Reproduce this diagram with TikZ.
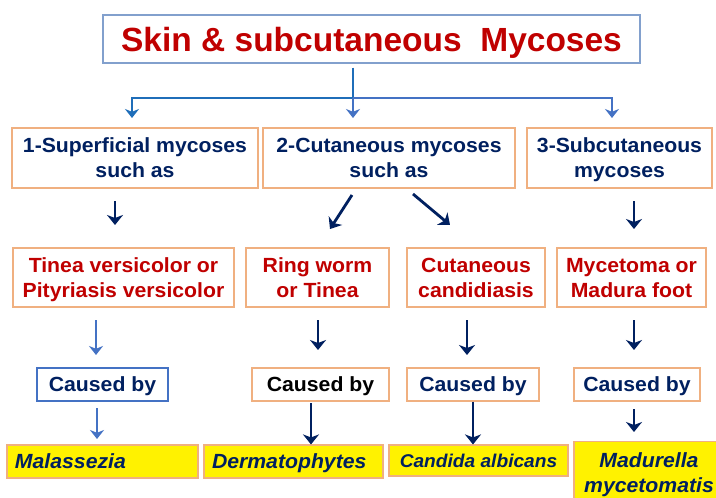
\documentclass[tikz,border=0pt]{standalone}
\usepackage{fontspec}
\setmainfont{Liberation Sans}[FakeStretch=1.035]
\newfontfamily\titlefont{Liberation Sans}
\usetikzlibrary{arrows.meta}
\definecolor{navy}{RGB}{0,32,96}
\definecolor{tred}{RGB}{192,0,0}
\definecolor{obord}{RGB}{240,176,128}
\definecolor{tbord}{RGB}{130,160,205}
\definecolor{lblue}{RGB}{68,114,196}
\definecolor{dblue}{RGB}{31,110,185}
\begin{document}
\begin{tikzpicture}[x=1pt,y=-1pt,
  every node/.style={inner sep=0pt, align=center, text depth=0pt},
  box/.style={draw=obord, line width=1.1pt, font=\fontsize{20.5}{25}\selectfont\bfseries},
  hdr/.style={box, text=navy, minimum height=60pt},
  dis/.style={box, text=tred, minimum height=59pt},
  cby/.style={box, text=navy, minimum height=33pt},
  org/.style={draw=obord, line width=1.1pt, fill=yellow, text=navy, font=\fontsize{20.5}{25}\selectfont\bfseries\itshape},
  narr/.style={draw=navy, line width=2.8pt, -{Stealth[length=10pt,width=16pt,inset=3pt]}},
  barr/.style={draw=lblue, line width=2.4pt, -{Stealth[length=9pt,width=14pt,inset=2.8pt]}},
  darr/.style={draw=dblue, line width=2.4pt, -{Stealth[length=9pt,width=14pt,inset=2.8pt]}},
]
\useasboundingbox (0,0) rectangle (716,498);
\fill[white] (0,0) rectangle (716,498);

% title
\node[draw=tbord, line width=1.1pt, minimum width=537pt, minimum height=48pt, text=tred,
      font=\titlefont\fontsize{33.5}{38}\selectfont\bfseries] (title) at (371.5,39) {Skin \& subcutaneous\ \ Mycoses};

% row 1
\node[hdr, minimum width=246pt] (s1) at (135,158) {1-Superficial mycoses\\such as};
\node[hdr, minimum width=252pt] (s2) at (389,158) {2-Cutaneous mycoses\\such as};
\node[hdr, minimum width=185pt] (s3) at (619.5,158) {3-Subcutaneous\\mycoses};

% row 2
\node[dis, minimum width=221pt] (d1) at (123.5,277.5) {Tinea versicolor or\\Pityriasis versicolor};
\node[dis, minimum width=143pt] (d2) at (317.5,277.5) {Ring worm\\or Tinea};
\node[dis, minimum width=138pt] (d3) at (476,277.5) {Cutaneous\\candidiasis};
\node[dis, minimum width=149pt] (d4) at (631.5,277.5) {Mycetoma or\\Madura foot};

% row 3
\node[cby, draw=lblue, minimum width=131pt] (c1) at (102.5,384.5) {Caused by};
\node[cby, text=black, minimum width=137pt] (c2) at (320.5,384.5) {Caused by};
\node[cby, minimum width=132pt] (c3) at (473,384.5) {Caused by};
\node[cby, minimum width=126pt] (c4) at (637,384.5) {Caused by};

% row 4
\node[org, text width=175pt, align=left, inner xsep=8pt, minimum height=33pt] (o1) at (102.5,461.5) {Malassezia};
\node[org, text width=163pt, align=left, inner xsep=8pt, minimum height=33pt] (o2) at (293.5,461.5) {Dermatophytes};
\node[org, minimum width=179pt, minimum height=31pt, font=\fontsize{18.5}{22}\selectfont\bfseries\itshape] (o3) at (478.5,460.5) {Candida albicans};
\node[org, minimum width=150pt, minimum height=63pt] (o4) at (649,473) {Madurella\\mycetomatis};

% main connector
\coordinate (tj) at (353,98);
\coordinate (tl) at (132,98);
\coordinate (tr) at (612,98);
\coordinate (tla) at (132,118);
\coordinate (tma) at (353,118);
\coordinate (tra) at (612,118);
\draw[dblue, line width=2.4pt, shorten <=4pt] (title.south -| tj) -- (tj);
\draw[darr] (tj) -- (tl) -- (tla);
\draw[barr] (tj) -- (tma);
\draw[barr] (tj) -- (tr) -- (tra);

% row1 -> row2
\coordinate (a1s) at (115,201); \coordinate (a1e) at (115,225);
\coordinate (a2s) at (352,195); \coordinate (a2e) at (330,229);
\coordinate (a3s) at (413,194); \coordinate (a3e) at (450,225);
\coordinate (a4s) at (634,201); \coordinate (a4e) at (634,229);
\draw[narr] (a1s) -- (a1e);
\draw[narr] (a2s) -- (a2e);
\draw[narr] (a3s) -- (a3e);
\draw[narr] (a4s) -- (a4e);

% row2 -> row3
\coordinate (b1s) at (96,320); \coordinate (b1e) at (96,355);
\coordinate (b2s) at (318,320); \coordinate (b2e) at (318,350);
\coordinate (b3s) at (467,320); \coordinate (b3e) at (467,355);
\coordinate (b4s) at (634,320); \coordinate (b4e) at (634,350);
\draw[barr] (b1s) -- (b1e);
\draw[narr] (b2s) -- (b2e);
\draw[narr] (b3s) -- (b3e);
\draw[narr] (b4s) -- (b4e);

% row3 -> row4
\coordinate (e1s) at (97,408); \coordinate (e1e) at (97,439);
\coordinate (e2s) at (311,403);
\coordinate (e4s) at (634,409); \coordinate (e4e) at (634,432);
\draw[barr] (e1s) -- (e1e);
\draw[narr] (e2s) -- (e2s |- o2.north);
\draw[narr] (c3.south) -- (c3.south |- o3.north);
\draw[narr] (e4s) -- (e4e);
\end{tikzpicture}
\end{document}
